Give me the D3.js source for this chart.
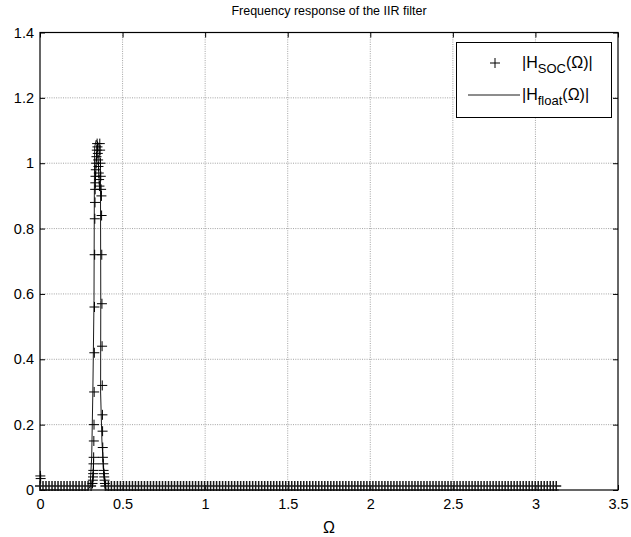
<!DOCTYPE html>
<html>
<head>
<meta charset="utf-8">
<script src="https://cdn.jsdelivr.net/npm/d3@7"></script>
<style>
  html, body { margin: 0; padding: 0; background: #fff; }
  svg { display: block; }
  text { font-family: "Liberation Sans", Arial, sans-serif; fill: #000; }
</style>
</head>
<body>
<svg id="chart" width="631" height="537"></svg>
<script>
// ---------------- data ----------------
const title = "Frequency response of the IIR filter";
const xTicks = [0, 0.5, 1, 1.5, 2, 2.5, 3, 3.5];
const xTickLabels = ["0", "0.5", "1", "1.5", "2", "2.5", "3", "3.5"];
const yTicks = [0, 0.2, 0.4, 0.6, 0.8, 1, 1.2, 1.4];
const yTickLabels = ["0", "0.2", "0.4", "0.6", "0.8", "1", "1.2", "1.4"];

// SOC response: flat noise floor outside the pass band (sampling grid)
const socFloorSegments = [[0.0, 0.318], [0.396, 3.1416]];
const socFloorStep = 0.0182;
const socFloorValue = 0.012;
// SOC samples at the left edge
const socEdgeOmega = [0.002, 0.004];
const socEdgeMag = [0.043, 0.035];
// SOC samples in the pass band
const socPeakOmega = [0.318, 0.320, 0.321, 0.322, 0.323, 0.324, 0.325, 0.326, 0.327, 0.328,
  0.329, 0.330, 0.331, 0.332, 0.333, 0.334, 0.335, 0.336, 0.338, 0.340,
  0.342, 0.344, 0.346, 0.348, 0.350, 0.352, 0.354, 0.356, 0.358, 0.360,
  0.362, 0.364, 0.366, 0.368, 0.370, 0.372, 0.373, 0.374, 0.375, 0.376,
  0.377, 0.378, 0.379, 0.380, 0.381, 0.383, 0.385, 0.387, 0.389, 0.391, 0.393];
const socPeakMag = [0.02, 0.03, 0.04, 0.05, 0.06, 0.08, 0.10, 0.15, 0.20, 0.30,
  0.42, 0.56, 0.72, 0.83, 0.88, 0.92, 0.94, 0.96, 0.98, 1.00,
  1.02, 1.04, 1.06, 1.05, 1.03, 1.01, 0.99, 0.97, 0.95, 0.93,
  1.06, 1.04, 1.00, 0.96, 0.92, 0.90, 0.84, 0.72, 0.57, 0.44,
  0.32, 0.23, 0.18, 0.13, 0.10, 0.08, 0.06, 0.05, 0.04, 0.03, 0.02];

// float response line
const floatOmega = [0, 0.29, 0.303, 0.313, 0.320, 0.327, 0.329, 0.331, 0.340, 0.355, 0.366, 0.368, 0.367, 0.375, 0.384, 0.40, 3.1416];
const floatMag   = [0, 0.0,  0.01,  0.10,  0.30,  0.58,  0.90,  1.05,  1.07,  1.06,  1.00,  0.58,  0.30,  0.15,  0.07,  0.0,  0.0];

const legendLabels = [["H", "SOC"], ["H", "float"]];

// ---------------- layout ----------------
const svg = d3.select("#chart");
const L = 40, R = 618, T = 32.5, B = 490;
const x = d3.scaleLinear().domain([0, 3.5]).range([L, R]);
const y = d3.scaleLinear().domain([0, 1.4]).range([B, T]);

// grid
const grid = svg.append("g");
grid.selectAll(".gx").data(xTicks.slice(1, -1)).join("line")
  .attr("x1", d => x(d)).attr("x2", d => x(d)).attr("y1", T).attr("y2", B)
  .attr("stroke", "#8c8c8c").attr("stroke-width", 0.8).attr("stroke-dasharray", "1,1.3");
grid.selectAll(".gy").data(yTicks.slice(1, -1)).join("line")
  .attr("y1", d => y(d)).attr("y2", d => y(d)).attr("x1", L).attr("x2", R)
  .attr("stroke", "#8c8c8c").attr("stroke-width", 0.8).attr("stroke-dasharray", "1,1.3");

// axes
const fs = 14.5;
const xAxis = svg.append("g").attr("transform", `translate(0,${B})`)
  .call(d3.axisBottom(x).tickValues(xTicks).tickFormat((d, i) => xTickLabels[i]).tickSize(-5).tickPadding(9));
const xAxisTop = svg.append("g").attr("transform", `translate(0,${T})`)
  .call(d3.axisTop(x).tickValues(xTicks).tickFormat("").tickSize(-5));
const yAxis = svg.append("g").attr("transform", `translate(${L},0)`)
  .call(d3.axisLeft(y).tickValues(yTicks).tickFormat((d, i) => yTickLabels[i]).tickSize(-5).tickPadding(6));
const yAxisR = svg.append("g").attr("transform", `translate(${R},0)`)
  .call(d3.axisRight(y).tickValues(yTicks).tickFormat("").tickSize(-5));
[xAxis, xAxisTop, yAxis, yAxisR].forEach(g => {
  g.select(".domain").remove();
  g.selectAll("line").attr("stroke", "#000").attr("stroke-width", 1);
  g.selectAll("text").attr("font-size", fs).attr("font-family", "Liberation Sans, Arial, sans-serif").attr("fill", "#000");
});
svg.append("rect").attr("x", L).attr("y", T).attr("width", R - L).attr("height", B - T)
  .attr("fill", "none").attr("stroke", "#000").attr("stroke-width", 1.2);

// data
const plot = svg.append("g");
const floorPts = [];
socFloorSegments.forEach(([a, b]) => {
  d3.range(a, b, socFloorStep).forEach(w => floorPts.push([w, socFloorValue]));
});
const socPts = [];
socEdgeOmega.forEach((w, i) => socPts.push([w, socEdgeMag[i]]));
socPeakOmega.forEach((w, i) => socPts.push([w, socPeakMag[i]]));

const ms = 5;
const plusPath = pts => pts.map(([w, m]) => {
  const px = x(w), py = y(m);
  return `M${px - ms},${py}H${px + ms}M${px},${py - ms}V${py + ms}`;
}).join("");
plot.append("path").attr("d", plusPath(floorPts))
  .attr("fill", "none").attr("stroke", "#1a1a1a").attr("stroke-width", 1.5);
plot.append("path").attr("d", plusPath(socPts))
  .attr("fill", "none").attr("stroke", "#000").attr("stroke-width", 1);

const line = d3.line().x(d => x(d[0])).y(d => y(d[1]));
plot.append("path")
  .datum(floatOmega.map((w, i) => [w, floatMag[i]]))
  .attr("d", line).attr("fill", "none").attr("stroke", "#000").attr("stroke-width", 0.9);

// title
svg.append("text").attr("x", (L + R) / 2).attr("y", 15).attr("text-anchor", "middle")
  .attr("font-size", 12.5).text(title);
// x label
svg.append("text").attr("x", (L + R) / 2).attr("y", 533).attr("text-anchor", "middle")
  .attr("font-size", 16).attr("font-family", "Liberation Serif, Times New Roman, serif").text("Ω");

// legend
const lg = svg.append("g");
lg.append("rect").attr("x", 456.5).attr("y", 42.5).attr("width", 155).attr("height", 75)
  .attr("fill", "#fff").attr("stroke", "#000").attr("stroke-width", 1);
const rowY = [63, 95];
lg.append("path").attr("d", `M${495 - ms},${rowY[0]}H${495 + ms}M495,${rowY[0] - ms}V${rowY[0] + ms}`)
  .attr("stroke", "#000").attr("stroke-width", 1).attr("fill", "none");
lg.append("line").attr("x1", 468).attr("x2", 520).attr("y1", rowY[1]).attr("y2", rowY[1])
  .attr("stroke", "#000").attr("stroke-width", 0.9);
legendLabels.forEach(([h, sub], i) => {
  const t = lg.append("text").attr("x", 522).attr("y", rowY[i] + 5).attr("font-size", 16);
  t.append("tspan").text("|" + h);
  t.append("tspan").attr("font-size", 13).attr("dy", 5).text(sub);
  t.append("tspan").attr("dy", -5).text("(Ω)|");
});
</script>
</body>
</html>
